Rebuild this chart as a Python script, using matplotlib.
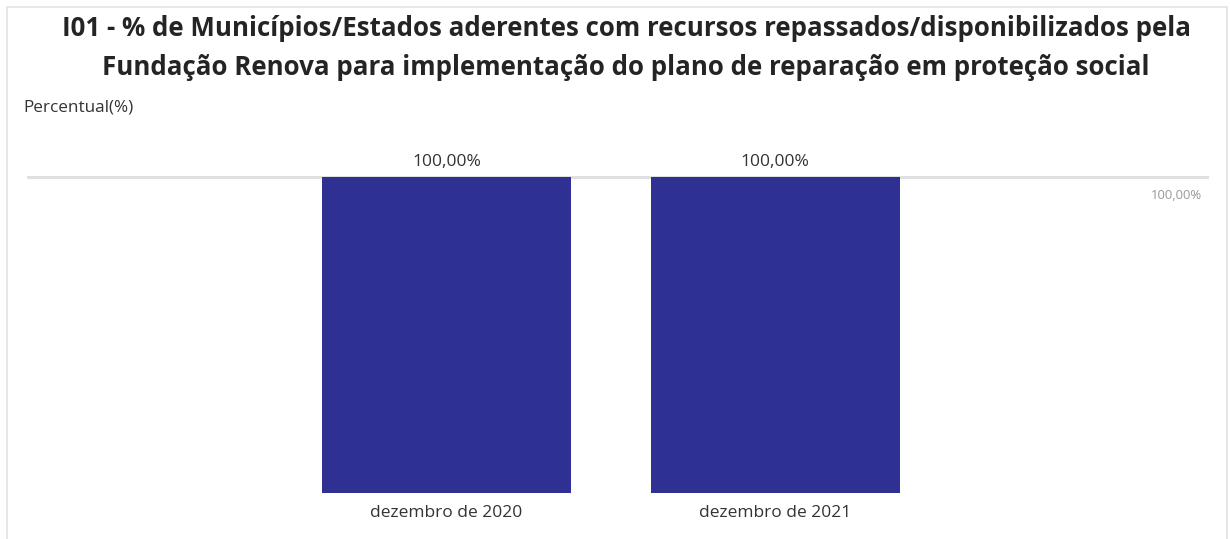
import matplotlib
matplotlib.use('Agg')
import matplotlib.pyplot as plt
from matplotlib.patches import Rectangle

plt.rcParams['font.family'] = ['Open Sans', 'DejaVu Sans']

# dados
categorias = ['dezembro de 2020', 'dezembro de 2021']
valores = [100.0, 100.0]
meta = 100.0
titulo = ('I01 - % de Municípios/Estados aderentes com recursos repassados/disponibilizados pela\n'
          'Fundação Renova para implementação do plano de reparação em proteção social')


def fmt(v):
    return f'{v:.2f}%'.replace('.', ',')


W, H = 1230, 539
fig = plt.figure(figsize=(W / 100, H / 100), dpi=100)

# moldura do visual
fig.patches.append(Rectangle((7 / W, -0.05), (1227 - 7) / W, 1.05 - 7 / H,
                             transform=fig.transFigure, fill=False,
                             edgecolor='#E3E3E3', linewidth=1.2))

# eixo: x 28..1207 px, y 177(100%)..493(0)
ax = fig.add_axes([28 / W, (H - 493) / H, (1207 - 28) / W, (493 - 177) / H])
x = list(range(len(categorias)))
ax.bar(x, valores, width=0.758, color='#2E3192', zorder=2)
ax.set_xlim(-1.274, 2.315)
ax.set_ylim(0, 100)

ax.axhline(meta, color='#E0E0E0', linewidth=2.2, zorder=1, clip_on=False)
ax.annotate(fmt(meta), (1.0, meta), xycoords=ax.get_yaxis_transform(),
            xytext=(-3.6, -13), textcoords='offset points',
            ha='right', va='center', fontsize=9.4, color='#999999')

for xi, v in zip(x, valores):
    ax.annotate(fmt(v), (xi, v), xytext=(0, 11),
                textcoords='offset points', ha='center', va='center',
                fontsize=12.5, color='#333333', annotation_clip=False)

ax.set_xticks(x)
ax.set_xticklabels(categorias, fontsize=12.5, color='#333333')
ax.tick_params(axis='x', length=0, pad=8.5)
ax.set_yticks([])
for s in ax.spines.values():
    s.set_visible(False)

fig.text(626 / W, 1 - 48 / H, titulo, ha='center', va='center', fontsize=18.6,
         fontweight='bold', color='#252423', linespacing=1.56)
fig.text(23 / W, 1 - 107 / H, 'Percentual(%)', ha='left', va='center',
         fontsize=12.3, color='#333333')

fig.savefig('out.png', dpi=100)
